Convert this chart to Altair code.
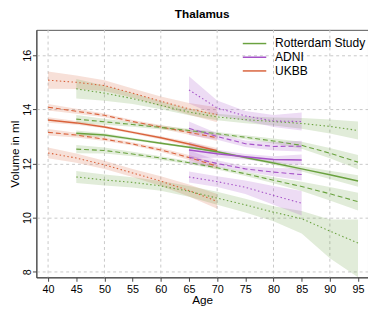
import altair as alt
import pandas as pd

# ---------------- data ----------------
cohorts = ["Rotterdam Study", "ADNI", "UKBB"]
colors = ["#6aa23f", "#a552c8", "#d9623b"]

# UKBB
ukbb_age = [40, 45, 50, 55, 60, 65, 70]
ukbb_q95 = [15.08, 15.0, 14.88, 14.6, 14.3, 14.02, 13.8]
ukbb_q75 = [14.08, 13.93, 13.78, 13.55, 13.35, 13.15, 12.95]
ukbb_q50 = [13.61, 13.5, 13.35, 13.15, 12.95, 12.72, 12.47]
ukbb_q25 = [13.15, 13.05, 12.9, 12.72, 12.5, 12.22, 11.9]
ukbb_q05 = [12.39, 12.2, 11.95, 11.65, 11.35, 11.0, 10.6]
ukbb_ci95 = [0.32, 0.25, 0.2, 0.17, 0.18, 0.22, 0.28]
ukbb_ci75 = [0.12, 0.09, 0.07, 0.06, 0.07, 0.09, 0.12]
ukbb_ci50 = [0.1, 0.07, 0.05, 0.05, 0.06, 0.08, 0.1]
ukbb_ci25 = [0.12, 0.09, 0.07, 0.06, 0.07, 0.09, 0.12]
ukbb_ci05 = [0.2, 0.17, 0.15, 0.15, 0.18, 0.22, 0.27]

# Rotterdam Study
rs_age = [45, 50, 55, 60, 65, 70, 75, 80, 85, 90, 95]
rs_q95 = [14.76, 14.6, 14.4, 14.15, 13.9, 13.72, 13.62, 13.55, 13.48, 13.37, 13.22]
rs_q75 = [13.64, 13.54, 13.44, 13.33, 13.22, 13.1, 12.97, 12.83, 12.67, 12.38, 12.05]
rs_q50 = [13.12, 13.05, 12.9, 12.75, 12.6, 12.43, 12.22, 12.02, 11.8, 11.58, 11.35]
rs_q25 = [12.53, 12.48, 12.35, 12.2, 12.03, 11.84, 11.62, 11.38, 11.15, 10.88, 10.59]
rs_q05 = [11.5, 11.39, 11.3, 11.17, 10.97, 10.72, 10.47, 10.2, 9.96, 9.5, 9.06]
rs_ci95 = [0.36, 0.28, 0.2, 0.15, 0.12, 0.12, 0.13, 0.15, 0.2, 0.26, 0.33]
rs_ci75 = [0.15, 0.11, 0.08, 0.07, 0.06, 0.06, 0.07, 0.09, 0.13, 0.19, 0.26]
rs_ci50 = [0.1, 0.07, 0.05, 0.04, 0.04, 0.04, 0.05, 0.07, 0.1, 0.15, 0.21]
rs_ci25 = [0.15, 0.11, 0.08, 0.07, 0.06, 0.06, 0.08, 0.11, 0.17, 0.25, 0.33]
rs_ci05_hi = [0.22, 0.2, 0.19, 0.18, 0.2, 0.23, 0.23, 0.22, 0.28, 0.43, 0.87]
rs_ci05_lo = [0.22, 0.2, 0.19, 0.18, 0.2, 0.25, 0.28, 0.34, 0.55, 1.0, 1.27]

# ADNI
adni_age = [65, 70, 75, 80, 85]
adni_q95 = [14.72, 14.05, 13.76, 13.57, 13.55]
adni_q75 = [13.3, 13.0, 12.73, 12.63, 12.64]
adni_q50 = [12.5, 12.36, 12.25, 12.15, 12.13]
adni_q25 = [12.23, 12.0, 11.8, 11.68, 11.59]
adni_q05 = [11.5, 11.33, 11.12, 10.82, 10.53]
adni_ci95 = [0.5, 0.28, 0.18, 0.22, 0.33]
adni_ci75 = [0.25, 0.12, 0.12, 0.15, 0.2]
adni_ci50 = [0.3, 0.15, 0.1, 0.12, 0.2]
adni_ci25 = [0.25, 0.12, 0.1, 0.15, 0.22]
adni_ci05 = [0.2, 0.2, 0.25, 0.35, 0.45]

x_ticks = [40, 45, 50, 55, 60, 65, 70, 75, 80, 85, 90, 95]
x_grid = [40, 50, 60, 70, 80, 90]
y_ticks = [8, 10, 12, 14, 16]

# ---------------- table ----------------
rows = []


def add(cohort, ages, q, vals, ci_lo, ci_hi):
    for a, v, l, h in zip(ages, vals, ci_lo, ci_hi):
        rows.append(dict(cohort=cohort, q=q, kind={"q50": "solid", "q25": "dash", "q75": "dash"}.get(q, "dot"),
                         age=a, value=v, lo=v - l, hi=v + h))


for q, v, c in [("q95", ukbb_q95, ukbb_ci95), ("q75", ukbb_q75, ukbb_ci75), ("q50", ukbb_q50, ukbb_ci50),
                ("q25", ukbb_q25, ukbb_ci25), ("q05", ukbb_q05, ukbb_ci05)]:
    add("UKBB", ukbb_age, q, v, c, c)
for q, v, cl, ch in [("q95", rs_q95, rs_ci95, rs_ci95), ("q75", rs_q75, rs_ci75, rs_ci75),
                     ("q50", rs_q50, rs_ci50, rs_ci50), ("q25", rs_q25, rs_ci25, rs_ci25),
                     ("q05", rs_q05, rs_ci05_lo, rs_ci05_hi)]:
    add("Rotterdam Study", rs_age, q, v, cl, ch)
for q, v, c in [("q95", adni_q95, adni_ci95), ("q75", adni_q75, adni_ci75), ("q50", adni_q50, adni_ci50),
                ("q25", adni_q25, adni_ci25), ("q05", adni_q05, adni_ci05)]:
    add("ADNI", adni_age, q, v, c, c)

df = pd.DataFrame(rows)
grid_df = pd.DataFrame({"gx": x_grid})

FONT = "Liberation Sans"
xscale = alt.Scale(domain=[37.92, 96.77], nice=False, zero=False)
yscale = alt.Scale(domain=[7.79, 16.94], nice=False, zero=False)
xaxis = alt.Axis(values=x_ticks, grid=False, title="Age", tickSize=4, labelPadding=2,
                 labelFontSize=11, titleFontSize=12, titleFontWeight="normal", titlePadding=1,
                 domainColor="#444", tickColor="#444", labelColor="#000", titleColor="#000",
                 labelFont=FONT, titleFont=FONT, labelFlush=False)
yaxis = alt.Axis(values=y_ticks, grid=True, gridDash=[3, 3], gridColor="#c8c8c8", title="Volume in ml",
                 tickSize=4, labelPadding=0, labelAngle=270, labelFontSize=11, titleFontSize=12,
                 titleFontWeight="normal", titlePadding=0, domainColor="#444", tickColor="#444",
                 labelColor="#000", titleColor="#000", labelFont=FONT, titleFont=FONT, labelFlush=False)
color_scale = alt.Scale(domain=cohorts, range=colors)

gridrules = alt.Chart(grid_df).mark_rule(strokeDash=[3, 3], color="#c8c8c8", strokeWidth=1).encode(
    x=alt.X("gx:Q", scale=xscale, axis=xaxis)
)

bands = alt.Chart(df).mark_area(opacity=0.2, clip=True).encode(
    x=alt.X("age:Q", scale=xscale, axis=xaxis),
    y=alt.Y("lo:Q", scale=yscale, axis=yaxis),
    y2="hi:Q",
    color=alt.Color("cohort:N", scale=color_scale, legend=None),
    detail="q:N",
)

dash_lines = alt.Chart(df).transform_filter(alt.datum.kind == "dash").mark_line(
    strokeDash=[5, 3], strokeWidth=1.1, clip=True).encode(
    x=alt.X("age:Q", scale=xscale, axis=xaxis),
    y=alt.Y("value:Q", scale=yscale, axis=yaxis),
    color=alt.Color("cohort:N", scale=color_scale, legend=None),
    detail="q:N",
)

dot_lines = alt.Chart(df).transform_filter(alt.datum.kind == "dot").mark_line(
    strokeDash=[1.5, 2.5], strokeWidth=1.1, clip=True).encode(
    x=alt.X("age:Q", scale=xscale, axis=xaxis),
    y=alt.Y("value:Q", scale=yscale, axis=yaxis),
    color=alt.Color("cohort:N", scale=color_scale, legend=None),
    detail="q:N",
)

med_lines = alt.Chart(df).transform_filter(alt.datum.kind == "solid").mark_line(
    strokeWidth=1.5, clip=True).encode(
    x=alt.X("age:Q", scale=xscale, axis=xaxis),
    y=alt.Y("value:Q", scale=yscale, axis=yaxis),
    color=alt.Color("cohort:N", scale=color_scale,
                    legend=alt.Legend(title=None, orient="none", legendX=216, legendY=7,
                                      symbolType="M-2,0H2", symbolSize=144, symbolStrokeWidth=1.5,
                                      symbolFillColor="transparent",
                                      labelFontSize=12.3, labelFont=FONT, labelColor="#000",
                                      labelOffset=14, rowPadding=0, padding=0)),
)

chart = alt.layer(gridrules, bands, dash_lines, dot_lines, med_lines).resolve_legend(
    color="independent"
).properties(
    width=339, height=253,
    autosize=alt.AutoSizeParams(type="none"),
    padding={"left": 29, "top": 19, "right": 0, "bottom": 28},
    title=alt.TitleParams("Thalamus", fontSize=12, fontWeight="bold", font=FONT, color="#000", offset=9),
).configure_view(stroke="#555", strokeWidth=1)

chart.save("out.html", embed_options={"renderer": "svg", "actions": False})
